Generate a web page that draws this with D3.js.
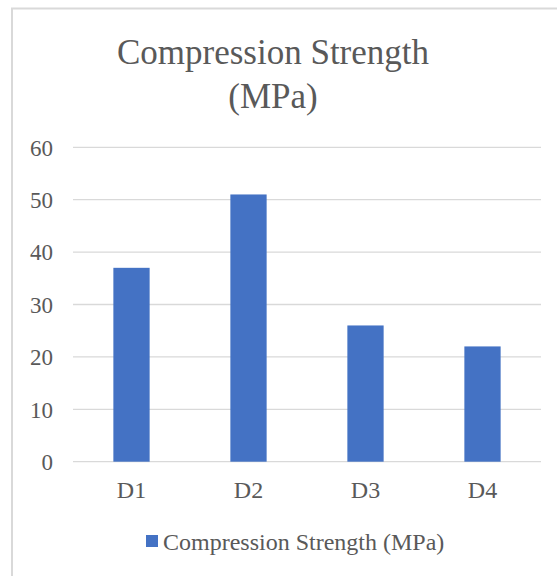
<!DOCTYPE html>
<html lang="en">
<head>
<meta charset="utf-8">
<title>Compression Strength</title>
<script src="https://d3js.org/d3.v7.min.js"></script>
<style>
  body { margin: 0; background: #fff; }
  svg { display: block; }
</style>
</head>
<body>
<svg width="557" height="576"></svg>
<script>
// data
const categories = ["D1", "D2", "D3", "D4"];
const strength = [37, 51, 26, 22];
const yTicks = [0, 10, 20, 30, 40, 50, 60];
const seriesName = "Compression Strength (MPa)";
const titleLines = ["Compression Strength", "(MPa)"];

const FONT = "'Liberation Serif', 'Times New Roman', serif";
const TEXT_COL = "#595959";
const svg = d3.select("svg");

// chart frame (only top and left edges show in the crop)
svg.append("line").attr("x1", 11).attr("x2", 557).attr("y1", 8.5).attr("y2", 8.5)
   .attr("stroke", "#d9d9d9").attr("stroke-width", 2);
svg.append("line").attr("x1", 12).attr("x2", 12).attr("y1", 8).attr("y2", 576)
   .attr("stroke", "#d9d9d9").attr("stroke-width", 2);

// title
svg.append("text")
   .attr("x", 273).attr("y", 63.5)
   .attr("text-anchor", "middle")
   .style("font-family", FONT)
   .style("font-size", "35px")
   .style("fill", TEXT_COL)
   .selectAll("tspan")
   .data(titleLines)
   .enter()
   .append("tspan")
   .attr("x", 273)
   .attr("dy", (d, i) => i === 0 ? 0 : 44)
   .text(d => d);

const x = d3.scaleBand()
            .domain(categories)
            .range([73, 541])
            .paddingInner(0.69)
            .paddingOuter(0.345);

const y = d3.scaleLinear()
            .domain([0, 60])
            .range([461.7, 147.3]);

// gridlines
svg.append("g")
   .selectAll("line")
   .data(yTicks)
   .enter()
   .append("line")
   .attr("x1", 73).attr("x2", 541)
   .attr("y1", d => y(d)).attr("y2", d => y(d))
   .attr("stroke", "#d9d9d9")
   .attr("stroke-width", 1.3);

// y axis labels
const yAxis = d3.axisLeft(y).tickValues(yTicks).tickSize(0).tickPadding(0);
svg.append("g")
   .attr("transform", "translate(53,0)")
   .call(yAxis)
   .call(g => g.select(".domain").remove())
   .selectAll("text")
   .style("font-family", FONT)
   .style("font-size", "23px")
   .style("fill", TEXT_COL)
   .attr("dy", "0.34em");

// bars
svg.append("g")
   .selectAll("rect")
   .data(strength)
   .enter()
   .append("rect")
   .attr("x", (d, i) => x(categories[i]))
   .attr("y", d => y(d))
   .attr("width", x.bandwidth())
   .attr("height", d => y(0) - y(d))
   .attr("fill", "#4472c4");

// x axis labels
const xAxis = d3.axisBottom(x).tickSize(0).tickPadding(0);
svg.append("g")
   .attr("transform", "translate(0,481)")
   .call(xAxis)
   .call(g => g.select(".domain").remove())
   .selectAll("text")
   .style("font-family", FONT)
   .style("font-size", "24px")
   .style("fill", TEXT_COL)
   .attr("dy", "0.71em");

// legend
svg.append("rect")
   .attr("x", 146).attr("y", 535)
   .attr("width", 12).attr("height", 12)
   .attr("fill", "#4472c4");
svg.append("text")
   .attr("x", 163).attr("y", 549.5)
   .style("font-family", FONT)
   .style("font-size", "24px")
   .style("fill", TEXT_COL)
   .text(seriesName);
</script>
</body>
</html>
